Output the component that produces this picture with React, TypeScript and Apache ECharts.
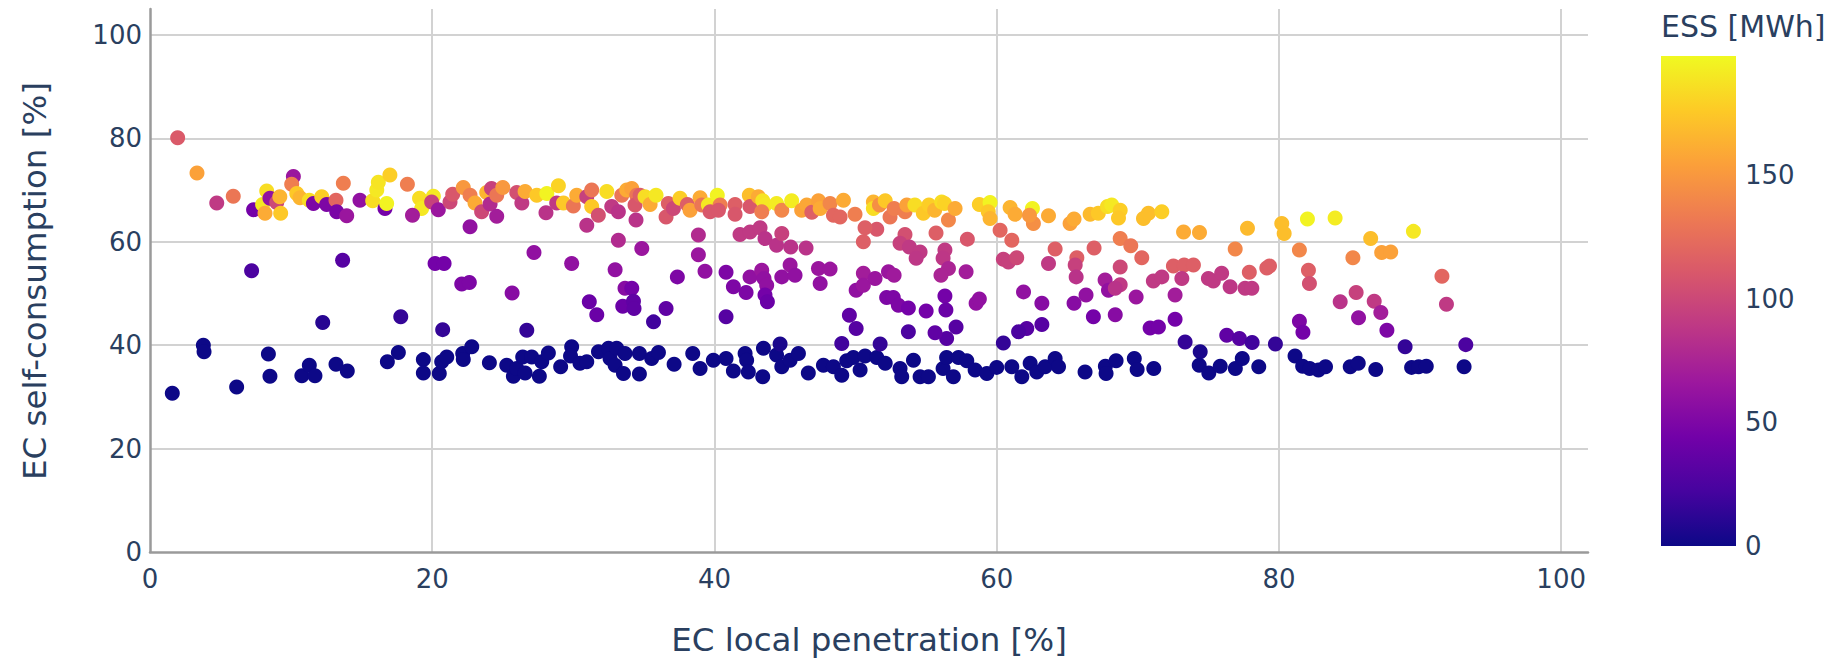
import React, { useEffect, useRef } from "react";
import * as echarts from "echarts";

// [EC local penetration %, EC self-consumption %, ESS MWh]
const lowBand: number[][] = [
  [1.58,30.7,0],[3.78,40.0,0],[3.83,38.7,0],[6.14,31.9,0],[8.39,38.3,0],[8.5,34.0,0],[10.76,34.1,0],[11.29,36.1,0],[11.69,34.1,0],[13.18,36.3,0],[13.98,35.0,0],[16.82,36.8,0],[17.6,38.6,0],[19.37,37.2,0],[19.37,34.6,0],[20.5,34.5,0],[20.67,36.8,0],[21.03,37.7,0],[22.16,38.4,0],[22.2,37.2,0],[22.8,39.7,0],[24.05,36.6,0],[25.28,36.1,0],[25.75,34.0,0],[25.99,35.5,0],[26.58,34.6,0],[26.41,37.7,0],[27.05,37.7,0],[27.59,34.0,0],[27.76,36.8,0],[28.23,38.5,0],[29.1,35.8,0],[29.88,39.7,0],[29.8,37.9,0],[30.47,36.5,0],[30.95,36.8,0],[31.78,38.7,0],[32.49,39.4,0],[32.6,37.4,0],[32.96,36.1,0],[33.07,39.4,0],[33.55,34.5,0],[33.66,38.4,0],
  [34.68,34.4,0],[34.68,38.4,0],[35.55,37.4,0],[36.03,38.6,0],[37.14,36.3,0],[38.46,38.4,0],[38.98,35.5,0],[39.92,37.1,0],[40.82,37.4,0],[41.34,35.0,0],[42.17,38.4,0],[42.28,37.1,0],[42.4,34.8,0],[43.47,39.4,0],[43.42,33.9,0],[44.4,38.1,0],[44.65,40.2,5],[44.77,35.8,0],[45.36,37.1,0],[45.95,38.4,0],[46.65,34.6,0],[47.72,36.1,0],[48.43,35.8,0],[49.02,34.2,0],[49.37,37.0,0],[49.84,37.6,0],[50.32,35.2,0],[50.67,37.9,0],[51.5,37.6,0],[52.1,36.5,0],[53.15,35.5,0],[53.27,33.9,0],[54.1,37.1,0],[54.57,33.9,0],[55.16,33.9,0],[56.2,35.5,0],[56.45,37.6,0],[56.93,33.9,0],[57.29,37.6,0],[57.88,37.0,0],[58.47,35.2,0],[59.3,34.5,0],[60.0,35.7,0],[61.07,35.8,0],[61.78,33.9,0],[62.37,36.5,0],[62.84,34.8,0],[63.43,35.8,0],[64.14,37.4,0],[64.38,35.8,0],[66.26,34.8,0],
  [67.7,35.9,0],[67.75,34.5,0],[68.46,37.0,0],[69.75,37.4,0],[69.95,35.3,0],[71.13,35.5,0],[74.42,38.7,5],[74.35,36.1,0],[75.03,34.6,0],[75.84,35.9,0],[76.91,35.5,0],[77.4,37.4,0],[78.57,35.8,0],[81.14,37.9,0],[81.68,35.9,0],[82.18,35.5,0],[82.8,35.2,0],[83.3,35.8,0],[85.05,35.8,0],[85.62,36.5,0],[86.86,35.3,0],[89.4,35.7,0],[89.9,35.8,0],[90.44,35.9,0],[93.12,35.8,0]
];

const midBand: number[][] = [
  [7.2,54.4,25],[13.65,56.4,30],[12.24,44.4,10],[17.77,45.5,15],[20.74,43.0,15],[26.7,42.9,15],
  [20.2,55.8,45],[20.84,55.8,45],[22.09,51.8,50],[22.63,52.1,50],[22.68,62.9,60],[25.66,50.1,55],[27.21,57.9,60],[29.88,55.8,60],[31.13,48.4,40],[31.66,45.9,40],[30.95,63.2,85],[33.19,60.3,80],[32.96,54.6,60],[33.66,51.0,55],[33.5,47.5,40],
  [34.85,58.7,65],[34.14,51.0,45],[34.26,48.5,35],[34.3,47.1,35],[35.68,44.5,20],[36.57,47.1,35],[37.37,53.2,50],[38.86,61.3,80],[38.86,57.5,65],[39.33,54.3,60],[40.82,54.1,50],[41.34,51.3,50],[40.82,45.5,30],[41.81,61.4,90],[42.52,61.9,90],[43.23,62.7,90],[43.58,60.6,85],[44.4,59.3,85],[44.77,61.6,95],[45.4,59.0,85],[46.49,58.8,85],[42.52,53.2,60],[42.24,50.2,50],[43.35,54.5,65],[43.51,52.9,60],[43.7,51.6,60],[43.58,49.7,45],[43.75,48.4,40],[44.77,53.2,60],[45.36,55.5,65],[45.71,53.5,60],[47.37,54.8,65],[48.19,54.7,65],[47.49,51.9,60],[50.55,60.0,115],[50.55,53.9,70],[50.04,50.6,60],[49.56,45.8,35],[50.04,43.2,30],[50.55,51.6,65],[49.02,40.3,20],
  [51.5,62.4,110],[53.5,61.4,105],[53.15,59.7,95],[53.81,59.0,90],[54.57,58.0,90],[54.29,56.8,88],[55.7,61.7,115],[56.33,58.4,90],[56.2,56.8,88],[56.58,54.8,75],[56.05,53.5,75],[57.83,54.2,70],[57.92,60.5,110],[51.38,52.9,65],[52.33,54.2,65],[52.73,53.5,68],[52.2,49.2,50],[52.67,49.2,50],[53.03,47.7,50],[53.74,47.2,45],[55.0,46.6,45],[56.33,49.5,45],[56.4,46.8,40],[57.12,43.5,30],[53.74,42.6,25],[58.54,48.1,60],[58.77,48.9,60],[60.24,62.2,120],[61.07,60.3,120],[60.47,56.6,95],[60.83,56.1,95],[61.42,56.9,100],[64.14,58.6,115],[63.67,55.8,90],[65.68,56.9,115],[65.56,55.5,95],[65.63,53.2,85],[66.9,58.8,115],[61.9,50.3,60],[63.2,48.1,55],[62.13,43.2,30],[63.2,44.0,30],[61.55,42.6,25],[65.48,48.1,55],[66.33,49.7,60],[66.85,45.5,45],[67.68,52.6,70],[67.92,50.6,60],[51.74,40.2,15],[60.47,40.4,15],[56.45,41.3,30],[55.63,42.4,35],
  [68.75,60.6,135],[69.5,59.2,130],[70.28,56.9,120],[68.75,55.1,100],[68.75,51.7,90],[68.4,51.0,85],[69.88,49.3,65],[68.4,45.9,55],[72.52,55.3,115],[73.28,55.5,115],[73.94,55.5,115],[71.1,52.4,90],[71.7,53.2,90],[73.12,52.9,90],[72.64,49.7,70],[72.64,45.0,45],[70.87,43.3,45],[71.46,43.5,45],[75.0,52.9,90],[75.35,52.4,90],[75.94,53.9,90],[76.9,58.6,140],[76.54,51.3,88],[77.6,51.0,90],[78.08,51.0,90],[77.9,54.1,115],[79.14,54.9,115],[79.33,55.3,115],[81.45,58.4,140],[82.09,54.5,115],[82.16,51.9,105],[84.34,48.4,85],[81.45,44.6,50],[81.7,42.5,45],[76.3,41.9,35],[77.2,41.3,30],[78.1,40.5,20],[73.35,40.6,15],[79.75,40.2,15],
  [91.55,53.3,120],[85.47,50.2,95],[86.75,48.5,90],[87.22,46.3,70],[85.64,45.3,60],[87.65,42.9,50],[91.87,47.9,90],[88.94,39.7,15],[93.24,40.1,25]
];

const topBand: number[][] = [
  [1.96,80.1,112],[3.33,73.3,155],[4.73,67.5,90],[5.9,68.8,130],[7.34,66.2,45],[8.27,69.8,185],[7.98,67.2,190],[8.15,65.5,160],[8.5,68.4,60],[8.98,67.6,100],[9.2,68.7,165],[9.26,65.5,175],[10.16,72.6,65],[10.04,71.1,135],[10.4,69.3,175],[10.63,68.5,165],[11.29,68.0,185],[11.58,67.4,50],[12.17,68.7,178],[12.52,67.2,50],[13.18,68.0,120],[13.23,65.8,48],[13.7,71.3,135],[13.94,65.0,65],[14.88,68.0,60],[15.78,67.9,185],[16.07,70.0,190],[16.18,71.5,188],[16.65,66.4,45],[16.77,67.4,195],[17.0,72.9,178],
  [19.1,68.4,185],[19.25,66.4,190],[18.6,65.1,70],[18.24,71.1,135],[20.08,68.8,190],[19.96,67.7,95],[20.43,66.2,65],[21.26,67.7,100],[21.45,69.2,110],[22.2,70.5,150],[22.68,69.0,135],[23.03,67.5,160],[23.5,65.8,100],[23.86,69.5,165],[24.1,67.3,80],[24.2,70.3,95],[24.57,64.9,70],[24.57,69.0,130],[25.0,70.5,150],[25.99,69.5,105],[26.35,67.5,90],[26.58,69.7,160],[27.41,69.0,175],[28.12,69.3,195],[28.06,65.6,85],[28.94,70.8,180],[28.82,67.5,90],[29.3,67.5,175],[30.0,66.9,130],[30.24,69.0,160],[30.95,68.7,95],[31.3,70.0,130],[31.3,66.8,175],[31.77,65.1,105],[32.37,69.7,185],[32.72,66.8,90],[33.19,65.8,85],[33.43,69.0,130],[33.78,70.0,160],
  [34.14,70.3,155],[34.49,69.0,130],[34.37,67.1,110],[34.73,69.0,115],[35.08,68.7,185],[35.44,67.2,160],[35.86,69.0,190],[34.44,64.2,85],[36.73,67.4,115],[36.57,64.8,110],[37.09,66.4,100],[37.56,68.4,178],[38.08,67.2,115],[38.27,66.1,155],[38.98,68.5,160],[39.1,67.1,130],[39.57,67.1,190],[39.69,65.8,110],[40.2,69.0,195],[40.4,67.1,135],[40.28,66.1,110],[41.46,67.2,115],[41.46,65.3,110],[42.47,69.0,170],[42.52,66.8,110],[43.11,68.7,160],[43.42,67.9,188],[43.58,67.1,190],[43.35,65.8,135],[44.4,67.4,192],[44.77,66.1,140],[45.47,67.9,192],[46.18,66.1,155],[46.54,67.1,158],[46.9,65.7,115],[47.37,67.9,155],[47.49,66.4,160],[48.19,67.4,140],[48.43,65.1,120],[48.9,64.8,120],[49.14,68.0,160],[49.96,65.3,135],[50.67,62.7,115],
  [51.26,67.7,165],[51.26,66.4,185],[51.69,67.1,145],[52.1,67.9,175],[52.44,64.8,130],[52.73,66.4,135],[53.5,65.8,135],[53.63,67.1,155],[54.2,67.1,185],[54.8,65.5,175],[55.2,67.1,178],[55.6,66.1,165],[56.1,67.7,185],[56.3,67.4,180],[56.58,64.2,140],[57.05,66.4,160],[58.77,67.2,178],[59.53,67.6,195],[59.4,65.8,175],[59.53,64.5,165],[60.95,66.6,165],[61.3,65.3,160],[62.53,66.4,195],[62.6,63.5,145],[62.32,65.1,150],[63.67,65.0,160],[65.2,63.5,155],[65.48,64.4,160],[66.62,65.3,168],[67.2,65.5,175],[67.85,66.8,185],
  [68.15,67.1,190],[68.75,66.1,178],[68.63,64.6,175],[70.4,64.5,170],[70.75,65.5,170],[71.7,65.8,178],[73.24,61.9,160],[74.37,61.8,160],[77.77,62.6,168],[80.2,63.5,170],[80.37,61.6,170],[82.02,64.4,195],[83.98,64.6,192],[86.5,60.6,170],[87.28,57.9,155],[87.92,58.0,155],[89.53,62.0,190],[85.24,56.9,140]
];

const xTicks = [0, 20, 40, 60, 80, 100];
const yTicks = [0, 20, 40, 60, 80, 100];
const essTicks = [0, 50, 100, 150];
const ESS_MAX = 198;

const plasma = ["#0d0887", "#46039f", "#7201a8", "#9c179e", "#bd3786", "#d8576b", "#ed7953", "#fb9f3a", "#fdca26", "#f0f921"];

const FONT = "DejaVu Sans";
const TXT = "#2a3f5f";

export default function App() {
  const ref = useRef<HTMLDivElement>(null);
  useEffect(() => {
    if (!ref.current) return;
    const chart = echarts.init(ref.current, undefined, { renderer: "svg" });
    const barX = 1661, barY = 56, barW = 75, barH = 490;
    const graphics: any[] = [
      {
        type: "rect",
        shape: { x: barX, y: barY, width: barW, height: barH },
        style: {
          fill: {
            type: "linear", x: 0, y: 1, x2: 0, y2: 0,
            colorStops: plasma.map((c, i) => ({ offset: i / (plasma.length - 1), color: c })),
          },
        },
      },
      {
        type: "text", x: barX, y: 26,
        style: { text: "ESS [MWh]", fill: TXT, font: `30px '${FONT}'`, textAlign: "left", textVerticalAlign: "middle" },
      },
      ...essTicks.map((v) => ({
        type: "text", x: barX + barW + 9, y: barY + barH - (v / ESS_MAX) * barH,
        style: { text: String(v), fill: TXT, font: `26px '${FONT}'`, textAlign: "left", textVerticalAlign: "middle" },
      })),
      {
        type: "text", x: 869, y: 640,
        style: { text: "EC local penetration [%]", fill: TXT, font: `32.5px '${FONT}'`, textAlign: "center", textVerticalAlign: "middle" },
      },
      {
        type: "text", x: 35, y: 281, rotation: Math.PI / 2,
        style: { text: "EC self-consumption [%]", fill: TXT, font: `32.5px '${FONT}'`, textAlign: "center", textVerticalAlign: "middle" },
      },
    ];
    const axisCommon = {
      type: "value",
      axisTick: { show: false },
      axisLine: { show: true, onZero: false, lineStyle: { color: "#9a9a9a", width: 2.5 } },
      splitLine: { show: true, showMinLine: false, showMaxLine: false, lineStyle: { color: "#d2d2d2", width: 2 } },
    };
    chart.setOption({
      animation: false,
      backgroundColor: "#ffffff",
      textStyle: { fontFamily: FONT },
      grid: { left: 150, right: 254, top: 9, bottom: 106 },
      xAxis: {
        ...axisCommon,
        min: 0, max: 101.9, interval: 20,
        axisLabel: {
          color: TXT, fontSize: 26, fontFamily: FONT, margin: 14, showMaxLabel: false,
          formatter: (v: number) => (xTicks.includes(v) ? String(v) : ""),
        },
      },
      yAxis: {
        ...axisCommon,
        min: 0, max: 105, interval: 20,
        axisLabel: {
          color: TXT, fontSize: 26, fontFamily: FONT, margin: 8, showMaxLabel: false,
          formatter: (v: number) => (yTicks.includes(v) ? String(v) : ""),
        },
      },
      visualMap: {
        show: false, type: "continuous", dimension: 2, min: 0, max: ESS_MAX,
        inRange: { color: plasma },
      },
      graphic: graphics,
      series: [
        {
          type: "scatter",
          symbolSize: 15,
          itemStyle: { opacity: 1 },
          data: [...lowBand, ...midBand, ...topBand],
        },
      ],
    });
    return () => chart.dispose();
  }, []);
  return <div ref={ref} style={{ position: "absolute", left: 0, top: 0, width: 1842, height: 658 }} />;
}
